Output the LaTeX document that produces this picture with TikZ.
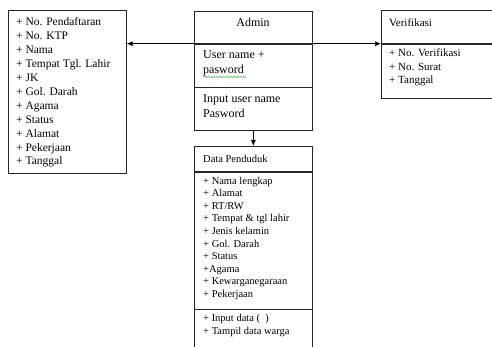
\documentclass[tikz,border=0pt]{standalone}
\usepackage{fontspec}
\setmainfont{Liberation Serif}
\usetikzlibrary{arrows.meta,decorations.pathmorphing}
\begin{document}
\begin{tikzpicture}[x=1pt,y=-1pt,
  box/.style={draw=black!85, line width=0.7pt, inner sep=0pt, anchor=north west},
  % multi-line lists are placed by the baseline of their last line
  list/.style={inner sep=0pt, anchor=base west, align=left},
  arrow/.style={draw=black, line width=0.7pt, -{Latex[length=6pt,width=5pt]}},
  squiggle/.style={draw=green!55!black!70, line width=0.5pt,
    decorate, decoration={snake, amplitude=0.6pt, segment length=2.5pt}}]
\useasboundingbox (0,0) rectangle (492,347);
\clip (0,0) rectangle (492,347);
\fill[white] (0,0) rectangle (492,347);

% left class: applicant data
\node[box, minimum width=118, minimum height=163] (pend) at (8,10) {};
\node[list, font=\fontsize{11.5}{13.9}\selectfont] (pendtext) at (16,165) {+ No. Pendaftaran\\+ No. KTP\\+ Nama\\+ Tempat Tgl. Lahir\\+ JK\\+ Gol. Darah\\+ Agama\\+ Status\\+ Alamat\\+ Pekerjaan\\+ Tanggal};

% Admin class
\node[box, minimum width=118, minimum height=32] (admtitle) at (194,11) {};
\node[anchor=base, inner sep=0pt, font=\fontsize{12}{14}\selectfont] (admname) at (253,27) {Admin};
\node[box, minimum width=118, minimum height=43] (admattr) at (admtitle.south west) {};
\node[list, font=\fontsize{12}{14.5}\selectfont] (admattrtext) at (203,73.5) {User name +\\pasword};
\node[box, minimum width=118, minimum height=43] (admop) at (admattr.south west) {};
\node[list, font=\fontsize{12}{14.5}\selectfont] (admoptext) at (203,117.5) {Input user name\\Pasword};
\coordinate (sqa) at (203,77);
\coordinate (sqb) at (246,77);
\draw[squiggle] (sqa) -- (sqb);

% Verifikasi class
\node[box, minimum width=140, minimum height=33] (vertitle) at (381,10) {};
\node[list, font=\fontsize{11}{13.3}\selectfont] (vername) at (389,27) {Verifikasi};
\node[box, minimum width=140, minimum height=54] (verattr) at (vertitle.south west) {};
\node[list, font=\fontsize{11}{13.3}\selectfont] (verattrtext) at (389,83.6) {+ No. Verifikasi\\+ No. Surat\\+ Tanggal};

% Data Penduduk class
\node[box, minimum width=118, minimum height=25] (dptitle) at (194,146) {};
\node[list, font=\fontsize{10.5}{12.6}\selectfont] (dpname) at (203,163) {Data Penduduk};
\node[box, minimum width=118, minimum height=137] (dpattr) at (dptitle.south west) {};
\node[list, font=\fontsize{10.5}{12.6}\selectfont] (dpattrtext) at (203,297.4) {+ Nama lengkap\\+ Alamat\\+ RT/RW\\+ Tempat \& tgl lahir\\+ Jenis kelamin\\+ Gol. Darah\\+ Status\\+Agama\\+ Kewarganegaraan\\+ Pekerjaan};
\node[box, minimum width=118, minimum height=60] (dpop) at (dpattr.south west) {};
\node[list, font=\fontsize{10.5}{13}\selectfont] (dpoptext) at (203,334) {+ Input data (\ \ )\\+ Tampil data warga};

% associations
\draw[arrow] (admtitle.south west) -- (pend.east |- admtitle.south west);
\draw[arrow] (admtitle.south east) -- (vertitle.south west);
\draw[arrow] (admop.south) -- (dptitle.north);
\end{tikzpicture}
\end{document}
